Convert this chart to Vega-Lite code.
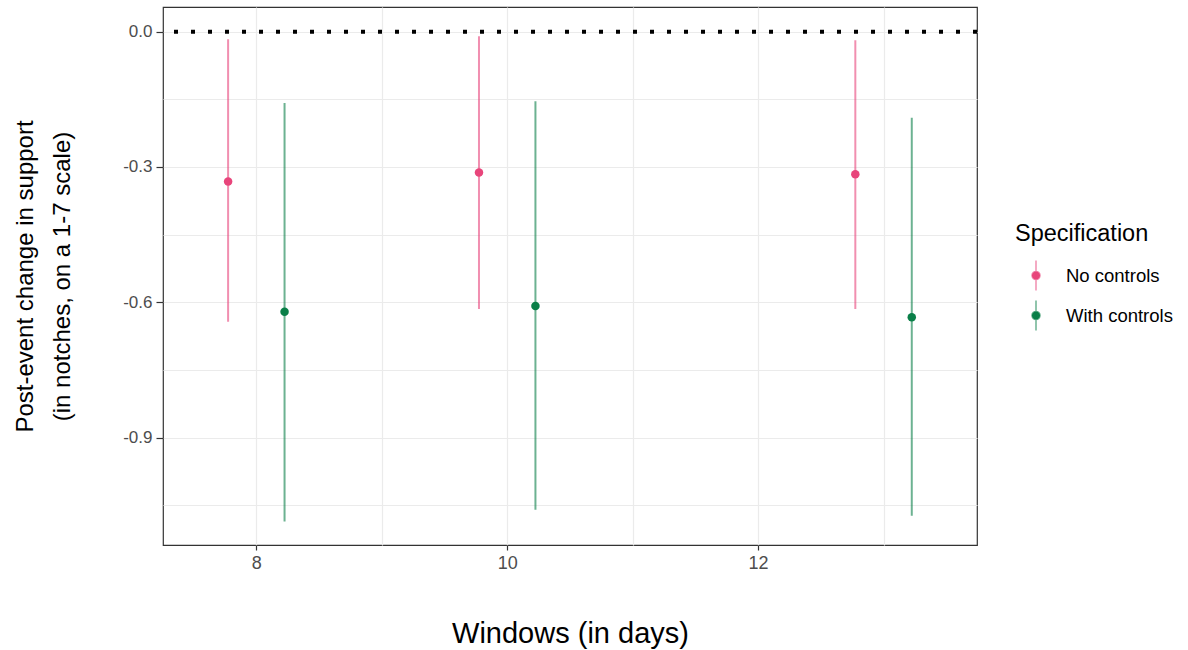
{
  "$schema": "https://vega.github.io/schema/vega-lite/v6.json",
  "width": 814,
  "height": 538,
  "autosize": {"type": "none"},
  "padding": {"left": 163, "top": 7, "right": 211, "bottom": 105},
  "background": "white",
  "data": {
    "values": [
      {"window": 8, "spec": "No controls", "est": -0.332, "lo": -0.643, "hi": -0.017},
      {"window": 8, "spec": "With controls", "est": -0.621, "lo": -1.086, "hi": -0.158},
      {"window": 10, "spec": "No controls", "est": -0.312, "lo": -0.615, "hi": -0.010},
      {"window": 10, "spec": "With controls", "est": -0.608, "lo": -1.060, "hi": -0.154},
      {"window": 13, "spec": "No controls", "est": -0.316, "lo": -0.615, "hi": -0.019},
      {"window": 13, "spec": "With controls", "est": -0.633, "lo": -1.073, "hi": -0.191}
    ]
  },
  "transform": [
    {"calculate": "datum.window + (datum.spec === 'No controls' ? -0.225 : 0.225)", "as": "xpos"}
  ],
  "encoding": {
    "x": {
      "field": "xpos",
      "type": "quantitative",
      "scale": {"domain": [7.256, 13.745], "nice": false, "zero": false},
      "axis": {
        "title": "Windows (in days)",
        "values": [8, 9, 10, 11, 12, 13],
        "labelExpr": "datum.value % 2 === 0 ? datum.label : ''",
        "tickOpacity": {"condition": {"test": "datum.value % 2 === 1", "value": 0}, "value": 1},
        "labelFontSize": 18,
        "labelPadding": 4,
        "tickSize": 5,
        "titleFontSize": 29,
        "titlePadding": 47
      }
    }
  },
  "layer": [
    {
      "data": {"values": [{"ref": 0}]},
      "mark": {"type": "rule", "color": "black", "strokeWidth": 4, "strokeDash": [4, 13]},
      "encoding": {
        "x": null,
        "y": {"field": "ref", "type": "quantitative"}
      }
    },
    {
      "mark": {"type": "rule", "strokeWidth": 2, "opacity": 0.6},
      "encoding": {
        "y": {
          "field": "lo",
          "type": "quantitative",
          "scale": {"domain": [-1.138, 0.0547], "nice": false, "zero": false},
          "axis": {
            "title": ["Post-event change in support", "(in notches, on a 1-7 scale)"],
            "values": [0, -0.15, -0.3, -0.45, -0.6, -0.75, -0.9, -1.05],
            "labelExpr": "round(datum.value * 20) % 2 !== 0 ? '' : replace(format(datum.value, '.1f'), '\u2212', '-')",
            "tickOpacity": {"condition": {"test": "round(datum.value * 20) % 2 !== 0", "value": 0}, "value": 1},
            "labelFontSize": 17,
            "labelPadding": 4,
            "tickSize": 7,
            "titleFontSize": 24,
            "titlePadding": 48,
            "titleLineHeight": 37
          }
        },
        "y2": {"field": "hi"},
        "color": {"field": "spec", "type": "nominal"}
      }
    },
    {
      "mark": {"type": "point", "filled": true, "shape": "circle", "size": 72, "opacity": 1},
      "encoding": {
        "y": {"field": "est", "type": "quantitative"},
        "color": {
          "field": "spec",
          "type": "nominal",
          "title": "Specification",
          "scale": {"domain": ["No controls", "With controls"], "range": ["#E8457B", "#0A7F48"]},
          "legend": {
            "orient": "none",
            "legendX": 852,
            "legendY": 215,
            "padding": 0,
            "symbolType": "M0,-1V1M-0.27,0A0.27,0.27,0,1,1,0.27,0A0.27,0.27,0,1,1,-0.27,0Z",
            "symbolSize": 900,
            "symbolStrokeWidth": 1.5,
            "symbolOpacity": 1,
            "symbolOffset": 5,
            "labelOffset": 14,
            "rowPadding": 4,
            "titlePadding": 14,
            "encode": {
              "symbols": {
                "update": {
                  "fill": {"scale": "color", "field": "value"},
                  "stroke": {"scale": "color", "field": "value"},
                  "opacity": {"value": 1},
                  "fillOpacity": {"value": 1},
                  "strokeOpacity": {"value": 0.6}
                }
              }
            }
          }
        }
      }
    }
  ],
  "config": {
    "font": "Liberation Sans",
    "view": {"stroke": "#333333", "strokeWidth": 1.2},
    "axis": {
      "domain": false,
      "grid": true,
      "gridColor": "#EBEBEB",
      "gridWidth": 1.2,
      "tickColor": "#333333",
      "tickWidth": 1.2,
      "labelFont": "Liberation Sans",
      "labelColor": "#4D4D4D",
      "titleFont": "Liberation Sans",
      "titleFontWeight": "normal",
      "titleColor": "black"
    },
    "legend": {
      "titleFont": "Liberation Sans",
      "titleFontSize": 23.5,
      "titleFontWeight": "normal",
      "titleColor": "black",
      "labelFont": "Liberation Sans",
      "labelFontSize": 18.5,
      "labelColor": "black"
    }
  }
}
